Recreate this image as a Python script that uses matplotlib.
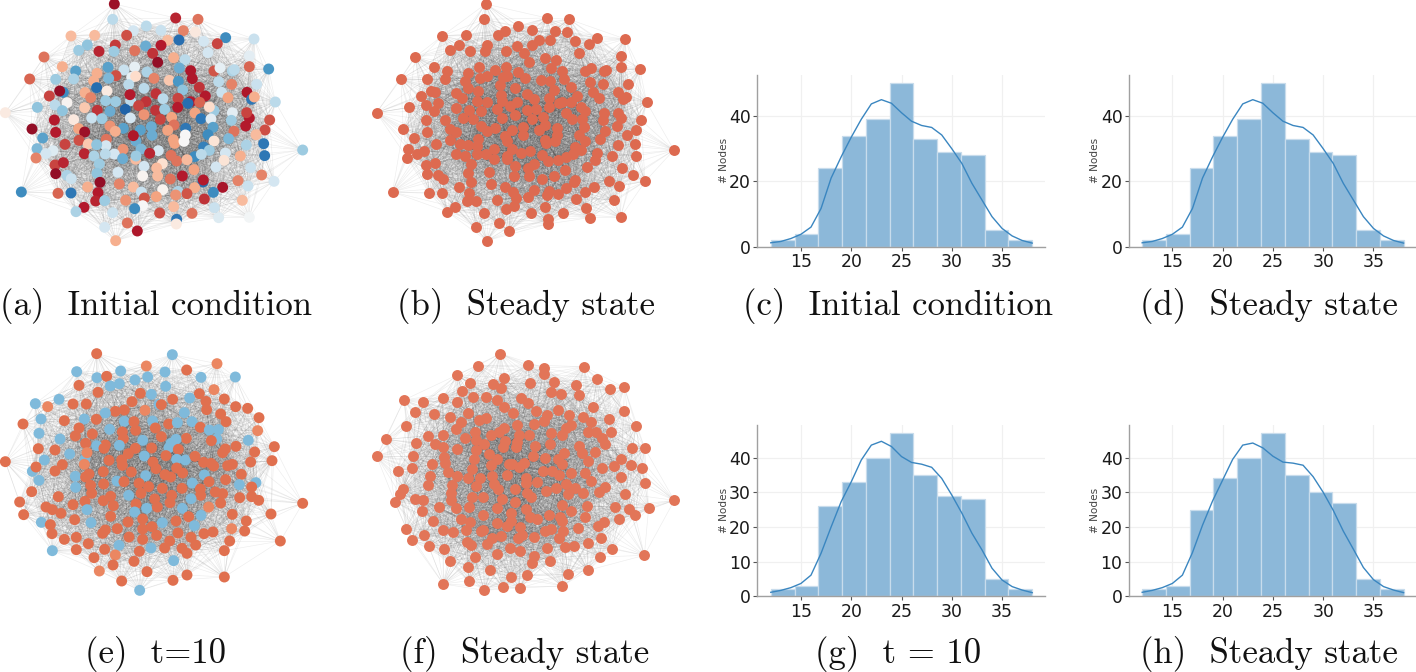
# Network states and degree histograms, eight panels
import numpy as np
import matplotlib
matplotlib.use('Agg')
import matplotlib.pyplot as plt
from matplotlib.collections import LineCollection

# --- DATA ---
# node position and opinion for the panels (a) and (b)
nodes_ab = [(343,12,.95),(338,58,-.3),(527,54,.85),(594,58,.6),(439,78,-.3),(400,92,-.2),(483,91,-.25),(550,92,.55),(586,96,.12),(380,106,.72),
    (213,108,.35),(284,106,.35),(677,113,-.7),(762,117,-.25),(503,121,.35),(537,120,-.85),(611,124,-.2),(652,131,.75),(346,135,.78),(262,135,-.45),
    (437,138,-.55),(483,136,.88),(236,151,-.4),(297,154,.85),(342,154,-.4),(404,152,.6),(458,160,.8),(624,158,-.2),(748,168,-.12),(132,171,.6),
    (521,173,.4),(555,179,-.3),(473,187,.98),(187,200,.4),(404,201,-.1),(324,202,-.6),(372,210,-.25),(538,204,-.55),(748,200,.65),(806,207,-.65),
    (227,213,-.6),(572,212,.9),(642,213,.7),(660,204,-.1),(697,213,-.35),(703,209,-.3),(441,216,-.35),(291,220,.4),(348,227,.72),(395,232,-.1),
    (407,229,.2),(462,235,.55),(508,241,.3),(577,236,.9),(221,237,-.35),(167,238,-.4),(89,237,.65),(326,235,-.5),(281,243,.4),(535,244,-.65),
    (656,245,-.3),(386,254,-.3),(695,253,.55),(770,253,-.25),(598,262,.8),(290,263,-.85),(432,265,-.3),(190,277,-.7),(179,273,.98),(321,273,.1),
    (665,277,-.25),(548,270,-.45),(255,278,.4),(148,288,.75),(741,277,.9),(392,302,-.3),(390,284,.88),(468,281,.8),(616,288,.88),(755,298,-.8),
    (763,291,.4),(684,293,.45),(272,293,.55),(534,295,.75),(489,296,-.3),(317,302,-.4),(347,305,-.4),(438,305,.8),(165,315,-.3),(201,308,.03),
    (572,305,.88),(599,307,.65),(564,310,-.85),(826,306,-.3),(416,317,.75),(112,322,-.45),(533,322,.88),(642,332,-.4),(628,321,.2),(254,323,.3),
    (187,332,-.45),(292,331,.8),(330,334,-.55),(376,328,-.9),(467,331,.8),(494,328,-.4),(585,339,.45),(697,338,-.12),(16,338,.1),(748,354,.88),
    (740,338,.75),(432,344,.5),(275,354,-.25),(306,356,-.4),(391,354,-.2),(221,359,.12),(163,360,.88),(603,356,-.8),(633,357,-.12),(515,352,.45),
    (481,358,.75),(809,360,.7),(694,361,-.4),(522,375,.6),(330,378,.5),(370,385,-.6),(236,386,.45),(96,387,.98),(737,378,.88),(639,382,-.6),
    (454,380,-.55),(557,385,-.8),(346,394,.4),(503,391,.45),(421,390,-.6),(254,396,.95),(167,397,.88),(702,394,.6),(795,390,.72),(624,404,-.7),
    (556,405,0.),(456,406,-.55),(408,423,-.55),(400,407,.9),(128,414,-.6),(768,404,.35),(319,418,.6),(237,421,.72),(524,430,.45),(520,419,.45),
    (552,424,0.),(686,416,-.5),(642,423,.15),(791,431,-.8),(265,432,.3),(195,433,.75),(318,437,-.2),(290,434,-.45),(739,435,-.35),(611,441,-.75),
    (111,446,-.5),(908,450,-.4),(159,452,-.15),(369,448,.5),(423,447,-.5),(475,452,-.2),(628,451,-.4),(138,461,-.2),(253,461,.85),(343,462,-.2),
    (316,462,-.3),(282,468,-.35),(449,460,.85),(676,459,-.2),(513,466,.6),(584,470,-.7),(604,463,-.3),(794,467,-.8),(108,474,.55),(721,468,.4),
    (407,478,.35),(368,476,-.55),(408,468,-.4),(530,483,.6),(561,479,.35),(672,481,.15),(165,495,.75),(190,488,.85),(298,492,-.4),(487,491,.18),
    (432,499,-.2),(648,501,-.2),(752,503,-.25),(470,504,.35),(582,509,.45),(291,520,-.45),(167,521,.98),(354,517,-.2),(201,526,-.35),(428,528,.03),
    (473,528,.35),(547,528,.88),(511,537,.6),(785,525,.55),(214,536,-.25),(300,547,.98),(609,546,-.85),(610,540,.88),(358,552,.55),(714,542,.55),
    (822,544,-.2),(263,561,.4),(400,561,.35),(668,562,.92),(744,558,-.25),(584,563,.4),(488,569,.03),(64,576,-.7),(174,580,.65),(213,579,-.8),
    (294,578,.88),(424,576,-.25),(534,574,-.35),(561,581,.7),(640,577,-.7),(469,590,.45),(527,585,.5),(433,594,.7),(377,601,.5),(287,603,.85),
    (314,602,-.4),(613,597,.8),(727,601,.35),(252,622,.88),(428,617,0.),(521,620,.35),(404,626,-.7),(643,623,-.25),(228,635,-.35),(338,638,-.25),
    (479,639,.72),(576,640,.6),(656,653,-.15),(748,652,-.03),(530,658,-.8),(529,672,.1),(382,669,.6),(314,682,-.2),(412,693,.9),(347,722,.4)]

# panel (e): o = orange, l = light orange, b = blue
nodes_e = [(290,41,'o'),(517,44,'b'),(439,78,'l'),(651,71,'l'),(230,95,'b'),(362,93,'b'),(495,96,'b'),(560,90,'o'),(291,113,'b'),(320,109,'o'),
    (443,111,'b'),(405,120,'b'),(603,112,'b'),(706,111,'b'),(237,136,'o'),(331,138,'b'),(358,131,'b'),(497,139,'b'),(642,149,'l'),(294,157,'o'),
    (421,160,'o'),(454,163,'b'),(598,161,'o'),(106,191,'b'),(177,178,'b'),(143,200,'l'),(219,192,'o'),(259,192,'o'),(396,185,'o'),(518,178,'o'),
    (569,174,'b'),(618,184,'o'),(673,177,'o'),(707,200,'o'),(743,205,'o'),(477,193,'b'),(484,194,'o'),(346,214,'o'),(373,210,'o'),(316,219,'b'),
    (435,211,'l'),(553,218,'b'),(620,209,'o'),(662,222,'o'),(123,237,'b'),(193,242,'o'),(253,237,'b'),(289,238,'o'),(373,244,'b'),(402,245,'o'),
    (458,243,'b'),(506,252,'o'),(532,248,'b'),(576,245,'b'),(678,245,'o'),(777,233,'o'),(69,252,'o'),(237,264,'o'),(117,280,'b'),(329,268,'b'),
    (407,271,'o'),(367,276,'o'),(466,264,'o'),(601,262,'o'),(628,270,'b'),(655,269,'b'),(773,272,'l'),(226,288,'o'),(277,282,'o'),(370,296,'o'),
    (484,290,'o'),(559,295,'o'),(180,297,'b'),(428,301,'b'),(528,298,'b'),(650,297,'b'),(634,302,'o'),(745,301,'b'),(257,310,'o'),(316,315,'o'),
    (513,310,'b'),(708,319,'o'),(823,320,'o'),(115,326,'o'),(165,330,'o'),(290,317,'b'),(358,316,'b'),(312,325,'o'),(455,324,'o'),(406,325,'o'),
    (507,323,'b'),(535,328,'o'),(676,327,'o'),(668,338,'o'),(209,342,'b'),(255,358,'b'),(261,338,'l'),(385,341,'o'),(433,348,'b'),(498,347,'o'),
    (764,336,'o'),(133,360,'b'),(16,365,'o'),(327,361,'o'),(365,360,'o'),(530,358,'b'),(556,360,'b'),(585,349,'o'),(816,362,'o'),(97,394,'b'),
    (108,381,'o'),(187,374,'o'),(253,373,'l'),(367,376,'o'),(459,366,'o'),(611,367,'o'),(633,370,'o'),(641,378,'o'),(683,377,'o'),(697,373,'o'),
    (752,366,'o'),(165,393,'o'),(310,395,'o'),(394,396,'o'),(468,386,'o'),(530,384,'o'),(548,399,'o'),(724,403,'o'),(117,421,'b'),(226,409,'b'),
    (267,402,'o'),(257,411,'o'),(437,407,'b'),(495,404,'o'),(512,411,'o'),(613,405,'b'),(677,419,'o'),(351,423,'b'),(372,425,'o'),(417,430,'o'),
    (577,429,'b'),(627,425,'o'),(768,428,'b'),(718,434,'b'),(755,441,'o'),(227,442,'b'),(272,436,'o'),(311,432,'o'),(446,440,'o'),(487,445,'o'),
    (546,445,'o'),(601,447,'o'),(95,455,'o'),(275,460,'o'),(602,466,'o'),(646,456,'o'),(668,461,'o'),(175,470,'o'),(332,469,'o'),(386,466,'b'),
    (423,460,'o'),(515,466,'o'),(719,473,'o'),(755,470,'o'),(573,476,'b'),(776,481,'o'),(59,486,'o'),(255,484,'o'),(310,482,'o'),(464,477,'o'),
    (510,488,'o'),(662,489,'o'),(908,490,'o'),(219,494,'o'),(340,497,'o'),(408,492,'o'),(440,505,'b'),(472,501,'o'),(138,501,'o'),(157,509,'o'),
    (626,501,'l'),(547,505,'b'),(261,509,'b'),(404,516,'b'),(71,524,'o'),(183,520,'o'),(332,529,'o'),(566,530,'o'),(603,526,'b'),(697,523,'o'),
    (813,522,'o'),(224,539,'o'),(428,537,'o'),(124,547,'b'),(273,548,'b'),(384,546,'o'),(487,548,'b'),(528,543,'o'),(739,543,'o'),(151,554,'o'),
    (583,557,'b'),(456,560,'o'),(352,566,'o'),(695,566,'l'),(316,570,'o'),(428,567,'o'),(308,580,'o'),(639,576,'o'),(612,581,'o'),(734,573,'o'),
    (156,581,'o'),(534,579,'o'),(229,592,'o'),(387,591,'o'),(470,586,'o'),(573,592,'o'),(193,598,'o'),(428,598,'o'),(509,603,'o'),(689,603,'o'),
    (841,603,'o'),(265,611,'o'),(357,616,'b'),(587,615,'o'),(157,632,'b'),(229,629,'o'),(314,628,'o'),(418,634,'o'),(453,624,'b'),(494,624,'o'),
    (546,625,'o'),(561,640,'o'),(673,632,'o'),(346,645,'l'),(282,653,'o'),(521,662,'b'),(402,664,'o'),(339,675,'o'),(441,695,'o'),(298,693,'l'),
    (561,705,'o'),(673,711,'o'),(365,723,'o'),(519,721,'o'),(419,751,'b')]

# panel (f)
nodes_f = [(406,41),(339,77),(489,75),(536,83),(536,101),(657,80),(276,105),(418,113),(696,116),(316,130),(385,132),(408,143),(494,130),(566,127),
    (632,136),(734,146),(778,142),(292,153),(557,155),(587,163),(641,165),(117,180),(174,187),(233,173),(277,187),(323,172),(363,170),(396,179),
    (467,173),(489,188),(685,200),(151,216),(207,223),(309,218),(418,200),(445,220),(513,212),(580,210),(776,212),(256,230),(287,246),(341,240),
    (363,234),(545,226),(538,243),(611,226),(655,231),(677,246),(731,236),(124,257),(273,268),(456,256),(507,252),(618,255),(604,263),(813,259),
    (189,287),(235,284),(299,294),(329,276),(379,284),(401,275),(416,264),(462,284),(493,284),(557,280),(590,286),(670,275),(692,277),(739,277),
    (62,298),(154,310),(211,312),(234,322),(332,299),(357,312),(420,304),(413,321),(455,306),(454,320),(511,318),(554,313),(711,295),(720,313),
    (641,319),(802,325),(839,325),(277,328),(333,330),(597,340),(650,338),(690,335),(35,349),(145,349),(238,350),(328,357),(371,343),(396,356),
    (505,349),(540,353),(580,357),(591,372),(670,362),(768,356),(200,373),(142,383),(239,369),(378,376),(432,373),(442,373),(463,380),(478,368),
    (711,383),(747,377),(797,374),(830,384),(98,393),(322,387),(248,397),(534,392),(561,393),(583,404),(619,400),(660,400),(195,408),(277,408),
    (310,413),(345,413),(381,409),(425,405),(483,413),(769,410),(677,424),(840,430),(188,435),(333,438),(387,432),(400,447),(484,430),(515,426),
    (603,432),(630,443),(719,441),(113,447),(105,462),(261,436),(259,458),(451,448),(543,453),(572,445),(701,457),(781,461),(151,476),(173,480),
    (321,472),(355,472),(410,476),(486,460),(498,472),(609,463),(655,460),(89,485),(259,481),(450,486),(221,502),(272,503),(313,500),(395,504),
    (592,494),(667,497),(751,501),(793,506),(851,503),(928,481),(172,514),(484,507),(617,514),(810,524),(353,524),(439,518),(494,531),(515,537),
    (553,525),(586,530),(660,531),(205,542),(288,536),(396,549),(437,543),(427,558),(591,544),(316,546),(761,538),(716,545),(698,559),(124,566),
    (233,570),(264,575),(304,569),(348,574),(355,570),(465,560),(557,567),(540,573),(639,563),(593,572),(178,584),(407,587),(382,595),(471,585),
    (459,595),(506,591),(583,595),(707,593),(140,600),(307,606),(317,615),(365,611),(668,608),(191,618),(435,624),(465,632),(546,623),(599,620),
    (628,617),(741,627),(236,628),(395,643),(507,647),(330,651),(838,646),(500,669),(555,662),(706,651),(255,663),(309,681),(374,689),(669,691),
    (439,710),(487,706),(609,703),(311,722),(235,732),(592,738),(358,751),(414,742),(464,744)]

# histograms: 11 bins from 12 to 38
counts_c = [2, 4, 24, 34, 39, 50, 33, 29, 28, 5, 2]
counts_d = [2, 4, 24, 34, 39, 50, 33, 29, 28, 5, 2]
counts_g = [2, 3, 26, 33, 40, 47, 35, 29, 28, 5, 2]
counts_h = [2, 3, 25, 34, 40, 47, 35, 30, 27, 5, 2]

# density curves read at x = 12, 13, ... 38
kde_x = list(range(12, 39))
kde_c = [1.2, 1.6, 2.5, 3.8, 6, 11.7, 21, 27.5, 33.5, 39, 43.7, 45, 43.9, 41, 38.4, 37.1, 36.5, 34.2, 30, 25.5, 19.4, 14.3, 9.2, 5.6, 3.3, 1.9, 1.1]
kde_d = kde_c
kde_g = [1.15, 1.7, 2.5, 3.7, 6.1, 12.4, 20, 27.3, 33, 39.3, 43.6, 44.7, 43.2, 40.3, 38.6, 38.1, 37.2, 34, 29.2, 24, 18.2, 13.4, 8.1, 4.7, 2.8, 1.8, 1.05]
kde_h = [1.15, 1.7, 2.5, 3.7, 6.1, 12.6, 20.5, 27.5, 33.5, 39.5, 43.6, 44.2, 42.8, 40.4, 38.7, 38.4, 37.8, 34.5, 30, 24.8, 18.8, 13.6, 8.3, 4.8, 2.8, 1.8, 1.05]

captions = ['(a)  Initial condition', '(b)  Steady state', '(c)  Initial condition', '(d)  Steady state',
            '(e)  t=10', '(f)  Steady state', '(g)  t = 10', '(h)  Steady state']

# --- FIGURE ---
W, H = 1416, 672
fig = plt.figure(figsize=(W / 100, H / 100), dpi=100)


def px_axes(x0, y0, w, h):
    """Axes placed with pixel coordinates measured from the top left corner."""
    return fig.add_axes([x0 / W, 1 - (y0 + h) / H, w / W, h / H])


def edge_segments(xy, radio=205, k=14):
    # the links cannot be read one by one: nodes closer than radio are tied,
    # and every node keeps at least its k closest ones
    d = np.hypot(*(xy[:, None, :] - xy[None, :, :]).transpose(2, 0, 1))
    pares = set()
    for i in range(len(xy)):
        cerca = set(np.argsort(d[i])[1:k + 1].tolist()) | set(np.nonzero(d[i] < radio)[0].tolist())
        for j in cerca:
            if j != i:
                pares.add((min(i, j), max(i, j)))
    return [(xy[i], xy[j]) for i, j in sorted(pares)]


def red(x0, y0, w, h, xy, colores):
    ax = px_axes(x0, y0, w, h)
    ax.set_xlim(0, w * 3)
    ax.set_ylim(h * 3, 0)
    ax.axis('off')
    ax.add_collection(LineCollection(edge_segments(xy), colors='#303030', linewidths=0.45, alpha=0.085, zorder=1))
    ax.scatter(xy[:, 0], xy[:, 1], s=62, c=colores, linewidths=0, zorder=2, clip_on=False)


def histograma(x0, y0, h, counts, kde, ymax, yticks):
    ax = px_axes(x0, y0, 288, h)
    bordes = np.linspace(12, 38, len(counts) + 1)
    ax.bar(bordes[:-1], counts, width=np.diff(bordes), align='edge', color='#8cb8d9',
           edgecolor='#c8dcec', linewidth=0.9, zorder=2)
    ax.plot(kde_x, kde, color='#3a86c0', linewidth=1.0, zorder=3)
    ax.set_xlim(10.66, 39.3)
    ax.set_ylim(0, ymax)
    ax.set_xticks([15, 20, 25, 30, 35])
    ax.set_yticks(yticks)
    ax.grid(True, color='#f0f0f0', linewidth=0.9, zorder=0)
    ax.set_axisbelow(True)
    for lado in ['top', 'right']:
        ax.spines[lado].set_visible(False)
    for lado in ['left', 'bottom']:
        ax.spines[lado].set_color('#a0a0a0')
        ax.spines[lado].set_linewidth(1.0)
    ax.tick_params(axis='both', labelsize=12.4, length=3, width=0.8, color='#555555', labelcolor='#1a1a1a', pad=1.5)
    ax.set_ylabel('# Nodes', fontsize=7.6, color='#444444')
    ax.yaxis.set_label_coords(-0.098, 0.5)


ab = np.array(nodes_ab, dtype=float)
op = ab[:, 2]
red(0, 0, 320, 250, ab[:, :2], plt.get_cmap('RdBu_r')((op * 0.9 + 1) / 2))
red(371.2, 0, 320, 250, ab[:, :2], '#dd6a50')

pal_e = {'o': '#e0704f', 'l': '#eb8762', 'b': '#7fbadb'}
xy_e = np.array([(a, b) for a, b, _ in nodes_e], dtype=float)
red(0, 340, 320, 260, xy_e, [pal_e[c] for _, _, c in nodes_e])
red(365, 340, 320, 260, np.array(nodes_f, dtype=float), '#e27558')

histograma(757.3, 75, 171.7, counts_c, kde_c, 52.55, [0, 20, 40])
histograma(1128.7, 75, 171.7, counts_d, kde_d, 52.55, [0, 20, 40])
histograma(757.3, 425, 171.3, counts_g, kde_g, 49.4, [0, 10, 20, 30, 40])
histograma(1128.7, 425, 171.3, counts_h, kde_h, 49.4, [0, 10, 20, 30, 40])

# captions, left edge and vertical middle in pixels
pos_x = [0, 397, 743, 1140, 85, 400, 815, 1140]
pos_y = [305.5, 305.5, 305.5, 305.5, 654.5, 654.5, 654.5, 654.5]
for texto, px, py in zip(captions, pos_x, pos_y):
    fig.text(px / W, 1 - py / H, texto, family='cmr10', fontsize=25, ha='left', va='center', color='#111111')

fig.savefig('out.png', dpi=100, facecolor='white')
